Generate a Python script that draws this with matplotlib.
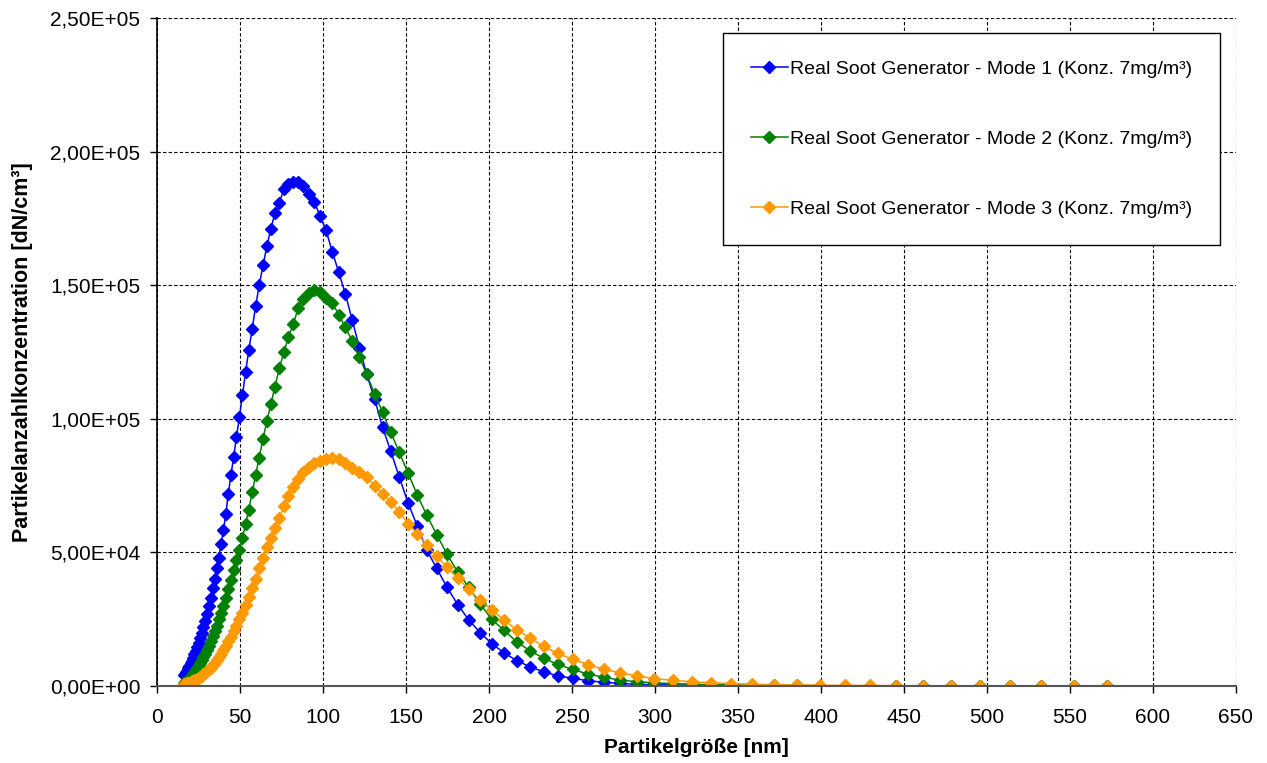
import matplotlib
matplotlib.use("Agg")
import matplotlib.pyplot as plt
from matplotlib.ticker import FuncFormatter, MultipleLocator

plt.rcParams['font.family'] = ['Liberation Sans', 'DejaVu Sans']

# particle diameter channels [nm]
diam = [16.3, 16.8, 17.5, 18.1, 18.8, 19.5, 20.2, 20.9, 21.7, 22.5,
        23.3, 24.1, 25.0, 25.9, 26.9, 27.9, 28.9, 30.0, 31.1, 32.2,
        33.4, 34.6, 35.9, 37.2, 38.5, 40.0, 41.4, 42.9, 44.5, 46.1,
        47.8, 49.6, 51.4, 53.3, 55.2, 57.3, 59.4, 61.5, 63.8, 66.1,
        68.5, 71.0, 73.7, 76.4, 79.1, 82.0, 85.1, 88.2, 91.4, 94.7,
        98.2, 101.8, 105.5, 109.4, 113.4, 117.6, 121.9, 126.3, 131.0, 135.8,
        140.7, 145.9, 151.2, 156.8, 162.5, 168.5, 174.7, 181.1, 187.7, 194.6,
        201.7, 209.1, 216.7, 224.7, 232.9, 241.4, 250.3, 259.5, 269.0, 278.8,
        289.0, 299.6, 310.6, 322.0, 333.8, 346.0, 358.7, 371.8, 385.4, 399.5,
        414.2, 429.4, 445.1, 461.4, 478.3, 495.8, 514.0, 532.8, 552.3, 572.5]

# dN/cm3
mode1 = [4000, 4500, 5100, 5800, 6600, 7500, 8500, 9500, 10500, 11800,
         13000, 14500, 16000, 18000, 20000, 22000, 24500, 27000, 30000, 33000,
         36500, 40000, 44000, 48000, 53000, 58500, 64500, 72000, 79000, 85700,
         93200, 100700, 108800, 117500, 125600, 133700, 142400, 149900, 157400, 164500,
         171100, 176900, 180800, 186100, 187900, 188800, 188500, 187300, 184200, 181300,
         175800, 170500, 162600, 154900, 146800, 136800, 126600, 116600, 107500, 96900,
         88000, 78200, 68500, 59800, 50800, 44000, 36900, 30500, 24800, 20000,
         15800, 12400, 9500, 7200, 5300, 3800, 2900, 2000, 1400, 1000,
         600, 500, 400, 300, 200, 200, 100, 100, 100, 100,
         100, 100, 50, 50, 50, 50, 50, 30, 30, 30]

mode2 = [1200, 1400, 1700, 2000, 2400, 2800, 3300, 3800, 4400, 5100,
         5800, 6600, 7500, 8500, 9600, 10800, 12100, 13600, 15100, 16800,
         18600, 20500, 22600, 24900, 27300, 30100, 33000, 36200, 39700, 43300,
         47000, 51000, 55500, 60500, 66000, 72500, 79000, 85500, 92500, 99000,
         105500, 112000, 119000, 125000, 130500, 135500, 141500, 145000, 147000, 148200,
         147400, 145200, 143500, 139000, 134300, 129000, 123000, 116600, 109400, 102500,
         95100, 87400, 79700, 71400, 63900, 56600, 49300, 42700, 37000, 30700,
         24900, 20800, 16500, 13200, 10400, 8100, 6200, 4500, 3300, 2200,
         1600, 1200, 900, 700, 500, 400, 300, 200, 200, 100,
         100, 100, 100, 100, 50, 50, 50, 50, 30, 30]

mode3 = [700, 800, 900, 1000, 1200, 1300, 1500, 1700, 1900, 2100,
         2400, 2700, 3100, 3500, 3900, 4400, 4900, 5500, 6200, 6900,
         7700, 8600, 9600, 10700, 12000, 13500, 15000, 16700, 18500, 20500,
         22600, 25000, 27500, 30500, 33500, 36500, 40000, 44000, 48000, 52000,
         55500, 59000, 63000, 67500, 71000, 74500, 77500, 80000, 81800, 83300,
         84300, 85100, 85500, 85100, 83500, 81600, 80100, 78200, 75000, 71800,
         68900, 65200, 60800, 57000, 52700, 48600, 44400, 40500, 36200, 32100,
         28400, 24700, 21000, 18000, 14800, 12200, 10000, 8000, 6300, 5000,
         3800, 2800, 2100, 1600, 1200, 900, 700, 500, 400, 300,
         200, 200, 100, 100, 100, 100, 50, 50, 30, 30]

labels = ["Real Soot Generator - Mode 1 (Konz. 7mg/m³)",
          "Real Soot Generator - Mode 2 (Konz. 7mg/m³)",
          "Real Soot Generator - Mode 3 (Konz. 7mg/m³)"]
colors = ["#0000FF", "#008000", "#FF9900"]

fig = plt.figure(figsize=(12.67, 7.63), dpi=100)
ax = fig.add_axes([0.124, 0.1009, 0.8515, 0.8755])

for ys, lab, c in zip([mode1, mode2, mode3], labels, colors):
    ax.plot(diam, ys, color=c, lw=1.1, marker='D', markersize=6,
            markerfacecolor=c, markeredgecolor=c, label=lab)

ax.set_xlim(0, 650)
ax.set_ylim(0, 250000)
ax.xaxis.set_major_locator(MultipleLocator(50))
ax.yaxis.set_major_locator(MultipleLocator(50000))
ax.yaxis.set_major_formatter(FuncFormatter(lambda v, p: f"{v:.2E}".replace('.', ',')))

ax.grid(True, color='black', linestyle=(0, (3, 2)), linewidth=0.8)
ax.set_axisbelow(True)
for s in ['top', 'right']:
    ax.spines[s].set_visible(False)
ax.spines['left'].set_linewidth(1.2)
ax.spines['bottom'].set_linewidth(1.5)
ax.spines['bottom'].set_color('#555555')
ax.tick_params(axis='both', labelsize=15, direction='out', length=5, width=1)
ax.tick_params(axis='y', pad=7)
ax.tick_params(axis='x', pad=11)

ax.set_xlabel("Partikelgröße [nm]", fontsize=15, fontweight='bold', labelpad=8)
ax.set_ylabel("Partikelanzahlkonzentration [dN/cm³]", fontsize=15.5, fontweight='bold', labelpad=12)

leg = ax.legend(loc='upper right', bbox_to_anchor=(0.985, 0.978), borderaxespad=0,
                fontsize=14, labelspacing=2.7, handlelength=1.9, handletextpad=0.15,
                borderpad=1.4, fancybox=False, framealpha=1, edgecolor='black')
leg.get_frame().set_linewidth(1.0)

fig.savefig("out.png", dpi=100)
